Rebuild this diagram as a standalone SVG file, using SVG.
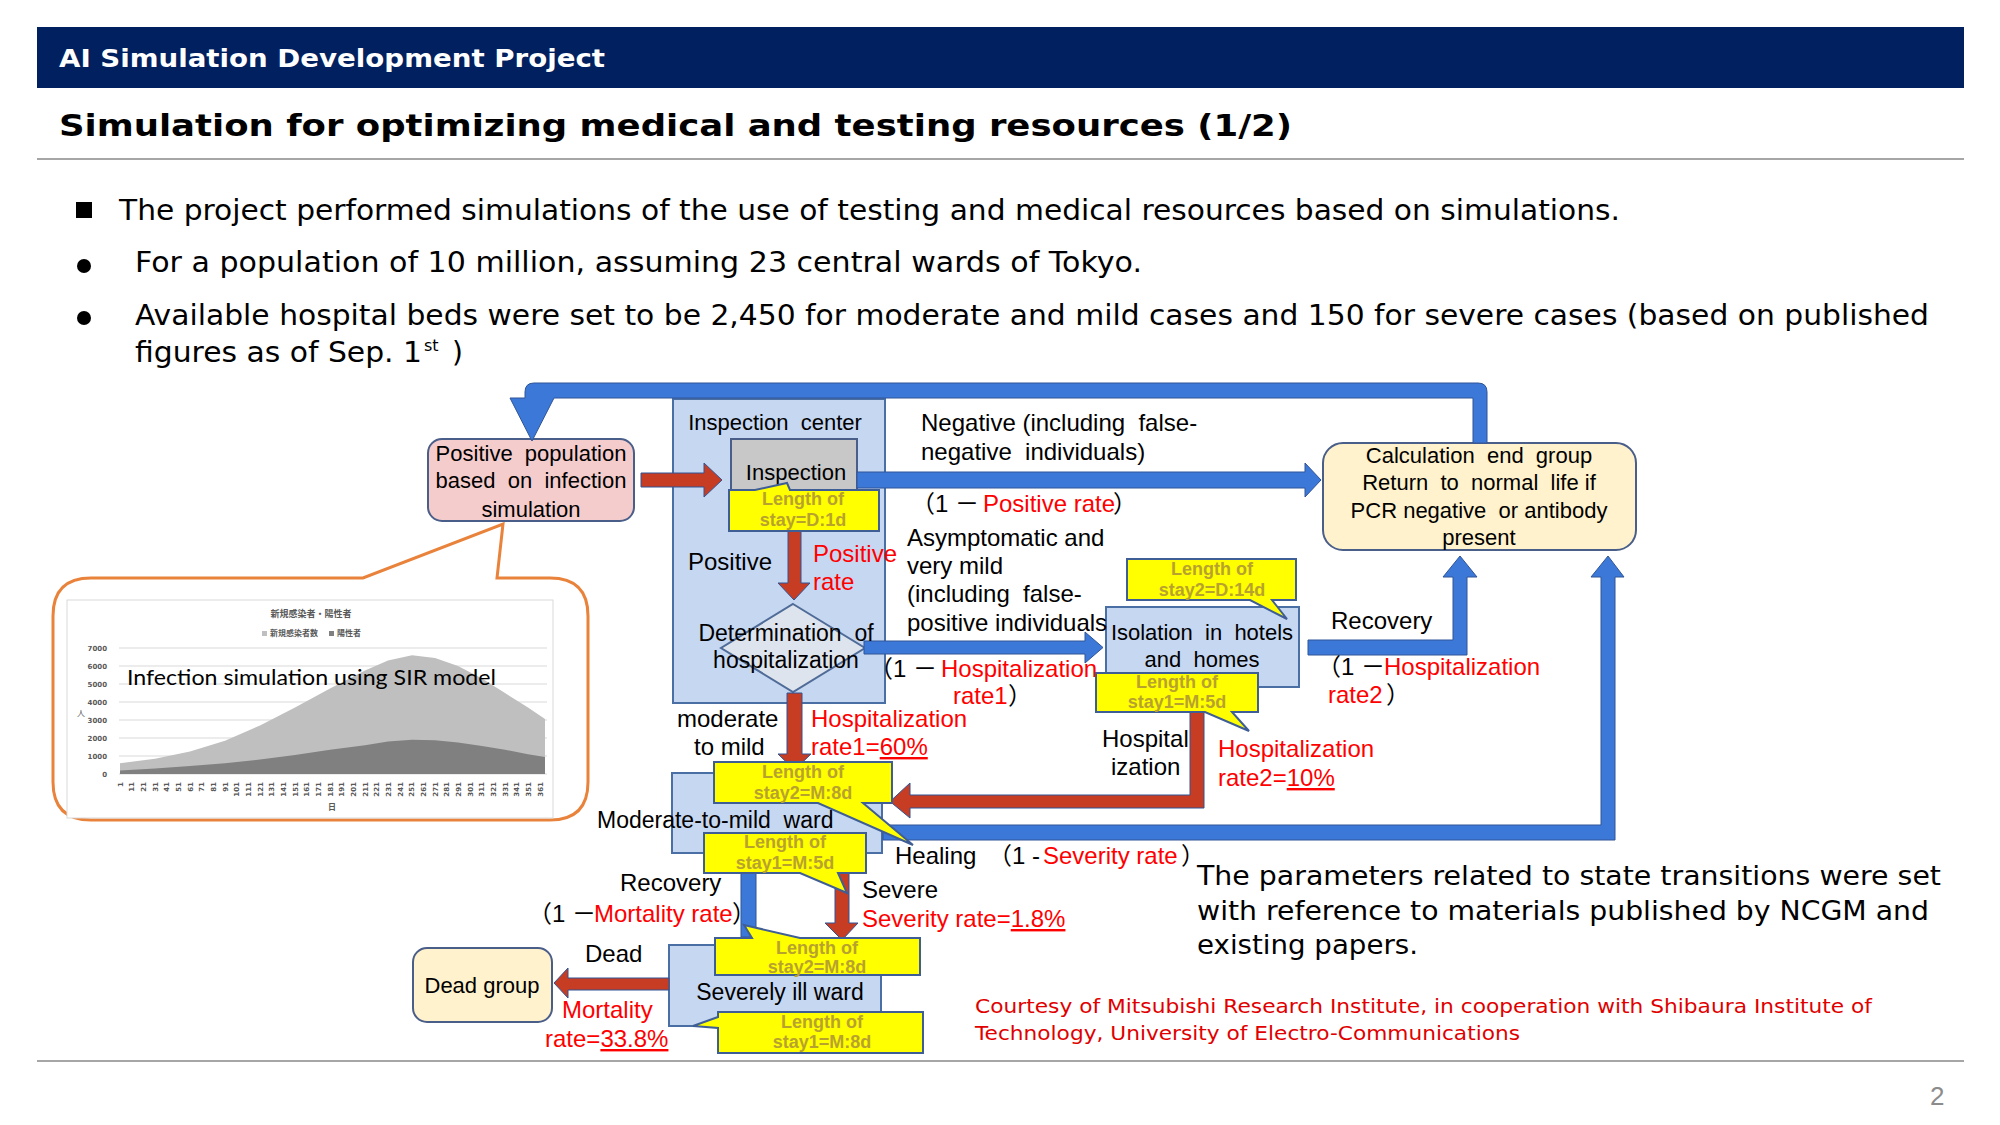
<svg xmlns="http://www.w3.org/2000/svg" width="2000" height="1125" viewBox="0 0 2000 1125">
<defs>
<style>
.v{font-family:"DejaVu Sans",Verdana,sans-serif}
.t{font-family:"Liberation Sans",Arial,"Noto Sans CJK JP",sans-serif;font-size:22px;fill:#000}
.l{font-size:24px}
.m{font-size:23px}
.r{fill:#FF0000}
.c{text-anchor:middle}
.y{font-family:"Liberation Sans",Arial,sans-serif;font-size:18px;font-weight:bold;fill:#B8A22E;text-anchor:middle}
.box{fill:#C6D7F1;stroke:#4A6FA5;stroke-width:2}
.yel{fill:#FFFF00;stroke:#3F5E96;stroke-width:2}
.blue{fill:#3C78D8;stroke:#2F5597;stroke-width:1}
.red{fill:#C63D24;stroke:#2F5597;stroke-width:1}
.cream{fill:#FFF2CC;stroke:#4A5E8A;stroke-width:2}
.ax{font-family:"DejaVu Sans",sans-serif;font-size:7px;font-weight:bold;fill:#595959}
.grid{stroke:#D9D9D9;stroke-width:1}
</style>
</defs>
<rect x="0" y="0" width="2000" height="1125" fill="#FFFFFF"/>

<g id="header">
<rect x="37" y="27" width="1927" height="61" fill="#002060"/>
<text x="59" y="67" class="v" font-size="25" font-weight="bold" fill="#FFFFFF" textLength="546" lengthAdjust="spacingAndGlyphs">AI Simulation Development Project</text>
<text x="59" y="136" class="v" font-size="30" font-weight="bold" fill="#000" textLength="1233" lengthAdjust="spacingAndGlyphs">Simulation for optimizing medical and testing resources (1/2)</text>
<line x1="37" y1="159" x2="1964" y2="159" stroke="#A6A6A6" stroke-width="2"/>
</g>

<g id="bullets" class="v" font-size="28" fill="#000">
<rect x="76" y="202" width="16" height="16" fill="#000"/>
<text x="119" y="220" textLength="1501" lengthAdjust="spacingAndGlyphs">The project performed simulations of the use of testing and medical resources based on simulations.</text>
<circle cx="84" cy="266" r="7" fill="#000"/>
<text x="135" y="272" textLength="1007" lengthAdjust="spacingAndGlyphs">For a population of 10 million, assuming 23 central wards of Tokyo.</text>
<circle cx="84" cy="318" r="7" fill="#000"/>
<text x="135" y="325" textLength="1794" lengthAdjust="spacingAndGlyphs">Available hospital beds were set to be 2,450 for moderate and mild cases and 150 for severe cases (based on published</text>
<text x="135" y="362" textLength="287" lengthAdjust="spacingAndGlyphs">figures as of Sep. 1</text>
<text x="424" y="351" font-size="16">st</text>
<text x="452" y="362">)</text>
</g>

<g id="chart-callout">
<path d="M91,578 H363 L503,524 L497,578 H550 Q588,578 588,616 V782 Q588,820 550,820 H91 Q53,820 53,782 V616 Q53,578 91,578 Z" fill="#FFFFFF" stroke="#E9833C" stroke-width="3"/>
<rect x="67" y="600" width="486" height="218" fill="#FFFFFF" stroke="#D9D9D9" stroke-width="1"/>
<text x="311" y="617" class="c" font-family="Noto Sans CJK JP,sans-serif" font-size="9" font-weight="bold" fill="#595959">新規感染者・陽性者</text>
<rect x="262" y="631" width="5" height="5" fill="#BFBFBF"/>
<text x="270" y="636" font-family="Noto Sans CJK JP,sans-serif" font-size="8" font-weight="bold" fill="#595959">新規感染者数</text>
<rect x="329" y="631" width="5" height="5" fill="#808080"/>
<text x="337" y="636" font-family="Noto Sans CJK JP,sans-serif" font-size="8" font-weight="bold" fill="#595959">陽性者</text>
<g class="grid">
<line x1="119" y1="648" x2="547" y2="648"/><line x1="119" y1="666" x2="547" y2="666"/><line x1="119" y1="684" x2="547" y2="684"/><line x1="119" y1="702" x2="547" y2="702"/><line x1="119" y1="720" x2="547" y2="720"/><line x1="119" y1="738" x2="547" y2="738"/><line x1="119" y1="756" x2="547" y2="756"/><line x1="119" y1="774" x2="547" y2="774"/>
</g>
<g class="ax" text-anchor="end">
<text x="107" y="651">7000</text><text x="107" y="669">6000</text><text x="107" y="687">5000</text><text x="107" y="705">4000</text><text x="107" y="723">3000</text><text x="107" y="741">2000</text><text x="107" y="759">1000</text><text x="107" y="777">0</text>
</g>
<text x="81" y="716" class="c" font-family="Noto Sans CJK JP,sans-serif" font-size="8" fill="#595959">人</text>
<polygon points="120,774 120,763.2 155,758.7 190,751.5 225,740.7 260,725.4 295,707.4 330,688.5 365,670.5 388,660.6 412,655.2 435,657.9 458,666 482,678.6 505,693 528,707.4 545,719.1 545,774" fill="#BFBFBF"/>
<polygon points="120,774 120,770.4 155,768.6 190,765.9 225,763.2 260,759.6 295,755.1 330,749.7 365,745.2 388,741.6 412,739.8 435,740.2 458,742.5 482,746.1 505,749.7 528,754.2 545,756.9 545,774" fill="#808080"/>
<g class="ax" text-anchor="end">
<text transform="translate(122.5,782) rotate(-90)">1</text><text transform="translate(134.2,782) rotate(-90)">11</text><text transform="translate(145.8,782) rotate(-90)">21</text><text transform="translate(157.5,782) rotate(-90)">31</text><text transform="translate(169.2,782) rotate(-90)">41</text><text transform="translate(180.8,782) rotate(-90)">51</text><text transform="translate(192.5,782) rotate(-90)">61</text><text transform="translate(204.2,782) rotate(-90)">71</text><text transform="translate(215.8,782) rotate(-90)">81</text><text transform="translate(227.5,782) rotate(-90)">91</text><text transform="translate(239.2,782) rotate(-90)">101</text><text transform="translate(250.8,782) rotate(-90)">111</text><text transform="translate(262.5,782) rotate(-90)">121</text><text transform="translate(274.2,782) rotate(-90)">131</text><text transform="translate(285.8,782) rotate(-90)">141</text><text transform="translate(297.5,782) rotate(-90)">151</text><text transform="translate(309.2,782) rotate(-90)">161</text><text transform="translate(320.8,782) rotate(-90)">171</text><text transform="translate(332.5,782) rotate(-90)">181</text><text transform="translate(344.2,782) rotate(-90)">191</text><text transform="translate(355.8,782) rotate(-90)">201</text><text transform="translate(367.5,782) rotate(-90)">211</text><text transform="translate(379.2,782) rotate(-90)">221</text><text transform="translate(390.8,782) rotate(-90)">231</text><text transform="translate(402.5,782) rotate(-90)">241</text><text transform="translate(414.2,782) rotate(-90)">251</text><text transform="translate(425.8,782) rotate(-90)">261</text><text transform="translate(437.5,782) rotate(-90)">271</text><text transform="translate(449.2,782) rotate(-90)">281</text><text transform="translate(460.8,782) rotate(-90)">291</text><text transform="translate(472.5,782) rotate(-90)">301</text><text transform="translate(484.2,782) rotate(-90)">311</text><text transform="translate(495.8,782) rotate(-90)">321</text><text transform="translate(507.5,782) rotate(-90)">331</text><text transform="translate(519.2,782) rotate(-90)">341</text><text transform="translate(530.8,782) rotate(-90)">351</text><text transform="translate(542.5,782) rotate(-90)">361</text>
</g>
<text x="332" y="810" class="c" font-family="Noto Sans CJK JP,sans-serif" font-size="8" font-weight="bold" fill="#595959">日</text>
<text x="127" y="685" font-family="Lato,'Open Sans',sans-serif" font-size="22" fill="#000" textLength="369" lengthAdjust="spacingAndGlyphs">Infection simulation using SIR model</text>
</g>

<g id="node-positive-population">
<rect x="428" y="439" width="206" height="82" rx="14" fill="#F4CCCC" stroke="#4A5E8A" stroke-width="2"/>
<text class="t c" x="531" y="461" xml:space="preserve">Positive  population</text>
<text class="t c" x="531" y="488" xml:space="preserve">based  on  infection</text>
<text class="t c" x="531" y="517">simulation</text>
</g>

<g id="node-inspection-center">
<rect class="box" x="673" y="399" width="212" height="304"/>
<text class="t c" x="775" y="430" xml:space="preserve">Inspection  center</text>
</g>

<g id="node-inspection">
<rect x="731" y="439" width="126" height="55" fill="#C8C8C8" stroke="#4A5E8A" stroke-width="2"/>
<text class="t c" x="796" y="480">Inspection</text>
</g>

<g id="node-determination">
<polygon points="793,604 865,648 793,692 721,648" fill="#DEE4EE" stroke="#4F6B97" stroke-width="2"/>
</g>

<g id="node-calculation-end">
<rect class="cream" x="1323" y="443" width="313" height="107" rx="20"/>
<text class="t c" x="1479" y="463" xml:space="preserve">Calculation  end  group</text>
<text class="t c" x="1479" y="490" xml:space="preserve">Return  to  normal  life if</text>
<text class="t c" x="1479" y="518" xml:space="preserve">PCR negative  or antibody</text>
<text class="t c" x="1479" y="545">present</text>
</g>

<g id="node-isolation">
<rect class="box" x="1106" y="607" width="193" height="80"/>
<text class="t c" x="1202" y="640" xml:space="preserve">Isolation  in  hotels</text>
<text class="t c" x="1202" y="667" xml:space="preserve">and  homes</text>
</g>

<g id="node-moderate-ward">
<rect class="box" x="672" y="773" width="210" height="80"/>
</g>

<g id="node-severe-ward">
<rect class="box" x="669" y="945" width="212" height="81"/>
</g>

<g id="node-dead-group">
<rect class="cream" x="413" y="948" width="139" height="74" rx="14"/>
<text class="t c" x="482" y="993">Dead group</text>
</g>

<g id="connectors">
<path class="blue" d="M1473,443 V398 H554 L532,441 L510,398 H525 V392 Q525,383 534,383 H1478 Q1487,383 1487,392 V443 Z"/>
<path class="blue" d="M857,472 H1305 V463 L1321,480 L1305,497 V488 H857 Z"/>
<path class="blue" d="M864,641 H1085 V632 L1103,647.5 L1085,663 V654 H864 Z"/>
<path class="blue" d="M1308,640 H1453 V577 H1443 L1460,556 L1477,577 H1467 V655 H1308 Z"/>
<path class="blue" d="M883,825 H1601 V577 H1591 L1608,556 L1624,577 H1615 V840 H883 Z"/>
<rect class="blue" x="741" y="873" width="15" height="64"/>
<path class="red" d="M641,473 H704 V463 L722,480 L704,497 V487 H641 Z"/>
<path class="red" d="M788,531 V583 H778 L794,600 L810,583 H801 V531 Z"/>
<path class="red" d="M787,693 V754 H778 L794.5,770 L811,754 H802 V693 Z"/>
<path class="red" d="M1190,712 V795 H910 V783 L890,801.5 L910,818 V808 H1204 V712 Z"/>
<path class="red" d="M835,873 V923 H825 L842,940 L858,923 H849 V873 Z"/>
<path class="red" d="M669,978 H568 V968 L554,983 L568,998 V990 H669 Z"/>
</g>

<g id="labels">
<text class="t l" x="921" y="431" xml:space="preserve">Negative (including  false-</text>
<text class="t l" x="921" y="460" xml:space="preserve">negative  individuals)</text>
<text class="t l" x="911" y="512">（1 －</text>
<text class="t l r" x="983" y="512">Positive rate</text>
<text class="t l" x="1113" y="512">）</text>
<text class="t l" x="688" y="570">Positive</text>
<text class="t l r" x="813" y="562">Positive</text>
<text class="t l r" x="813" y="590">rate</text>
<text class="t l" x="907" y="546">Asymptomatic and</text>
<text class="t l" x="907" y="574">very mild</text>
<text class="t l" x="907" y="602" xml:space="preserve">(including  false-</text>
<text class="t l" x="907" y="631">positive individuals</text>
<text class="t m c" x="786" y="641" xml:space="preserve">Determination  of</text>
<text class="t m c" x="786" y="668">hospitalization</text>
<text class="t l" x="869" y="677">（1 －</text>
<text class="t l r" x="941" y="677">Hospitalization</text>
<text class="t l r" x="953" y="704">rate1</text>
<text class="t l" x="1008" y="704">）</text>
<text class="t l" x="677" y="727">moderate</text>
<text class="t l" x="694" y="755">to mild</text>
<text class="t l r" x="811" y="727">Hospitalization</text>
<text class="t l r" x="811" y="755">rate1=<tspan text-decoration="underline">60%</tspan></text>
<text class="t l" x="1102" y="747">Hospital</text>
<text class="t l" x="1111" y="775">ization</text>
<text class="t l r" x="1218" y="757">Hospitalization</text>
<text class="t l r" x="1218" y="786">rate2=<tspan text-decoration="underline">10%</tspan></text>
<text class="t l" x="1331" y="629">Recovery</text>
<text class="t l" x="1317" y="675">（1 －</text>
<text class="t l r" x="1384" y="675">Hospitalization</text>
<text class="t l r" x="1328" y="703">rate2</text>
<text class="t l" x="1386" y="703">）</text>
<text class="t m" x="597" y="828" xml:space="preserve">Moderate-to-mild  ward</text>
<text class="t l" x="895" y="864">Healing</text>
<text class="t l" x="988" y="864">（1 -</text>
<text class="t l r" x="1043" y="864">Severity rate</text>
<text class="t l" x="1181" y="864">）</text>
<text class="t l" x="620" y="891">Recovery</text>
<text class="t l" x="528" y="922">（1 －</text>
<text class="t l r" x="594" y="922">Mortality rate</text>
<text class="t l" x="732" y="922">）</text>
<text class="t l" x="862" y="898">Severe</text>
<text class="t l r" x="862" y="927">Severity rate=<tspan text-decoration="underline">1.8%</tspan></text>
<text class="t m c" x="780" y="1000">Severely ill ward</text>
<text class="t l" x="585" y="962">Dead</text>
<text class="t l r" x="562" y="1018">Mortality</text>
<text class="t l r" x="545" y="1047">rate=<tspan text-decoration="underline">33.8%</tspan></text>
</g>

<g id="callout-inspection">
<path class="yel" d="M729,490 H755 L787,483 L790,490 H879 V531 H729 Z"/>
<text class="y" x="803" y="505">Length of</text>
<text class="y" x="803" y="526">stay=D:1d</text>
</g>
<g id="callout-isolation-2">
<path class="yel" d="M1127,559 H1296 V600 H1272 L1287,619 L1250,600 H1127 Z"/>
<text class="y" x="1212" y="575">Length of</text>
<text class="y" x="1212" y="596">stay2=D:14d</text>
</g>
<g id="callout-isolation-1">
<path class="yel" d="M1096,673 H1258 V712 H1232 L1249,731 L1205,712 H1096 Z"/>
<text class="y" x="1177" y="688">Length of</text>
<text class="y" x="1177" y="708">stay1=M:5d</text>
</g>
<g id="callout-moderate-2">
<path class="yel" d="M714,762 H892 V803 H863 L913,845 L818,803 H714 Z"/>
<text class="y" x="803" y="778">Length of</text>
<text class="y" x="803" y="799">stay2=M:8d</text>
</g>
<g id="callout-moderate-1">
<path class="yel" d="M704,833 H866 V873 H838 L847,893 L800,873 H704 Z"/>
<text class="y" x="785" y="848">Length of</text>
<text class="y" x="785" y="869">stay1=M:5d</text>
</g>
<g id="callout-severe-2">
<path class="yel" d="M715,938 H752 L744,925 L800,938 H920 V975 H715 Z"/>
<text class="y" x="817" y="954">Length of</text>
<text class="y" x="817" y="973">stay2=M:8d</text>
</g>
<g id="callout-severe-1">
<path class="yel" d="M718,1012 H923 V1053 H718 V1028 L693,1026 L718,1017 Z"/>
<text class="y" x="822" y="1028">Length of</text>
<text class="y" x="822" y="1048">stay1=M:8d</text>
</g>

<g id="notes">
<text x="1197" y="885" class="v" font-size="26" fill="#000" textLength="744" lengthAdjust="spacingAndGlyphs">The parameters related to state transitions were set</text>
<text x="1197" y="920" class="v" font-size="26" fill="#000" textLength="732" lengthAdjust="spacingAndGlyphs">with reference to materials published by NCGM and</text>
<text x="1197" y="954" class="v" font-size="26" fill="#000" textLength="221" lengthAdjust="spacingAndGlyphs">existing papers.</text>
<text x="975" y="1013" class="v" font-size="19" fill="#E00000" textLength="897" lengthAdjust="spacingAndGlyphs">Courtesy of Mitsubishi Research Institute, in cooperation with Shibaura Institute of</text>
<text x="975" y="1040" class="v" font-size="19" fill="#E00000" textLength="545" lengthAdjust="spacingAndGlyphs">Technology, University of Electro-Communications</text>
</g>

<g id="footer">
<line x1="37" y1="1061" x2="1964" y2="1061" stroke="#A6A6A6" stroke-width="2"/>
<text x="1930" y="1105" font-family="'Liberation Sans',sans-serif" font-size="26" fill="#8C8C8C">2</text>
</g>
</svg>
